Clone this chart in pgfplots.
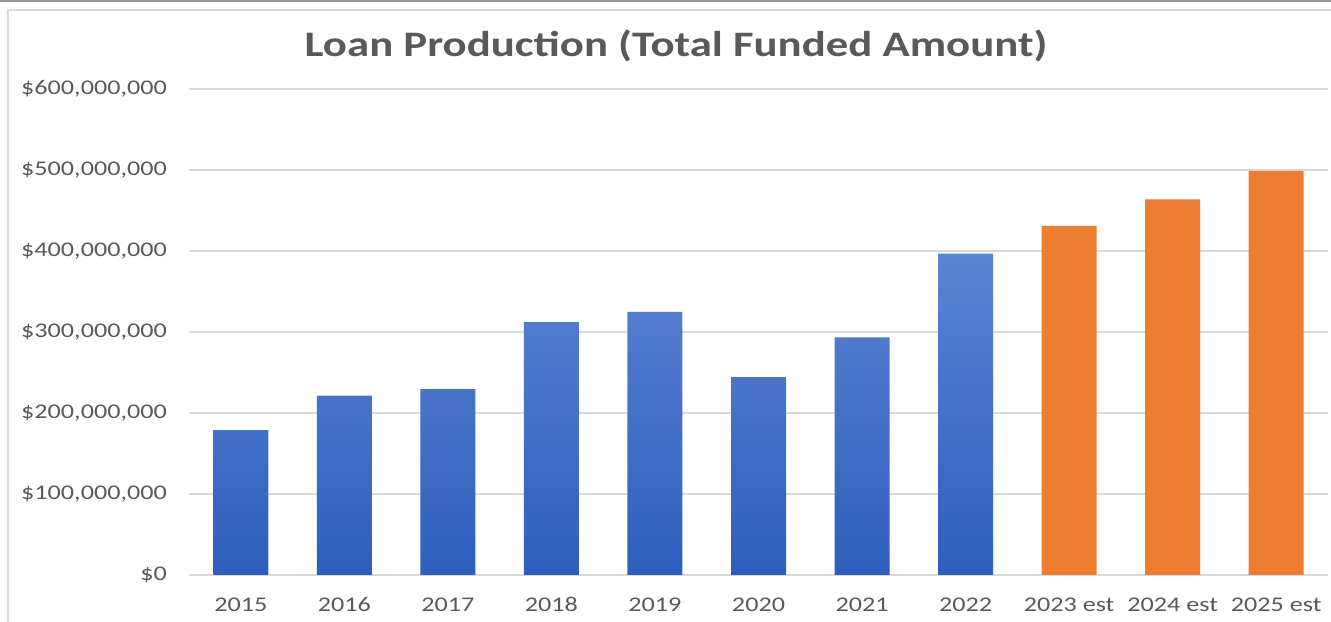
\documentclass[border=0pt]{standalone}
\usepackage{pgfplots}
\pgfplotsset{compat=1.18}
\usepackage{fontspec}
\setmainfont{Carlito}[FakeStretch=1.25]
\definecolor{txt}{HTML}{595959}
\definecolor{gridc}{HTML}{D9D9D9}
\definecolor{btop}{HTML}{5B83D2}
\definecolor{bbot}{HTML}{2E5EBD}
\definecolor{org}{HTML}{ED7D31}
\begin{document}
\begin{tikzpicture}
\path[use as bounding box] (0,0) rectangle (1331bp,622bp);
\draw[color=black!40, line width=2bp] (0,621bp) -- (1331bp,621bp);
\draw[gridc, line width=1.5bp] (8bp,0) -- (8bp,612bp) -- (1331bp,612bp);
\begin{axis}[
  at={(189bp,47bp)}, anchor=south west, scale only axis,
  width=1139bp, height=486bp,
  xmin=-0.5, xmax=10.5, ymin=0, ymax=600000000,
  axis line style={draw=none},
  ymajorgrids, major grid style={gridc, line width=1.3bp},
  tick style={draw=none},
  xtick={0,1,2,3,4,5,6,7,8,9,10},
  xticklabels={2015,2016,2017,2018,2019,2020,2021,2022,2023 est,2024 est,2025 est},
  ytick={0,100000000,200000000,300000000,400000000,500000000,600000000},
  yticklabels={\$0,{\$100,000,000},{\$200,000,000},{\$300,000,000},{\$400,000,000},{\$500,000,000},{\$600,000,000}},
  scaled y ticks=false,
  ticklabel style={font=\fontsize{21}{24}\selectfont, text=txt, inner sep=0pt},
  yticklabel style={anchor=east, xshift=-22bp},
  xticklabel style={anchor=north, yshift=-18bp},
  ybar, bar width=55bp, bar shift=0pt,
  title={Loan Production (Total Funded Amount)},
  title style={font=\bfseries\fontsize{36}{40}\selectfont, text=txt, at={(0.4276,1)}, anchor=base, yshift=27bp},
]
\addplot[draw=none, top color=btop, bottom color=bbot] coordinates {
  (0,179000000) (1,221500000) (2,229600000) (3,312300000)
  (4,324700000) (5,244400000) (6,293500000) (7,396700000)
};
\addplot[draw=none, fill=org] coordinates {
  (8,430900000) (9,463800000) (10,498800000)
};
\end{axis}
\end{tikzpicture}
\end{document}
